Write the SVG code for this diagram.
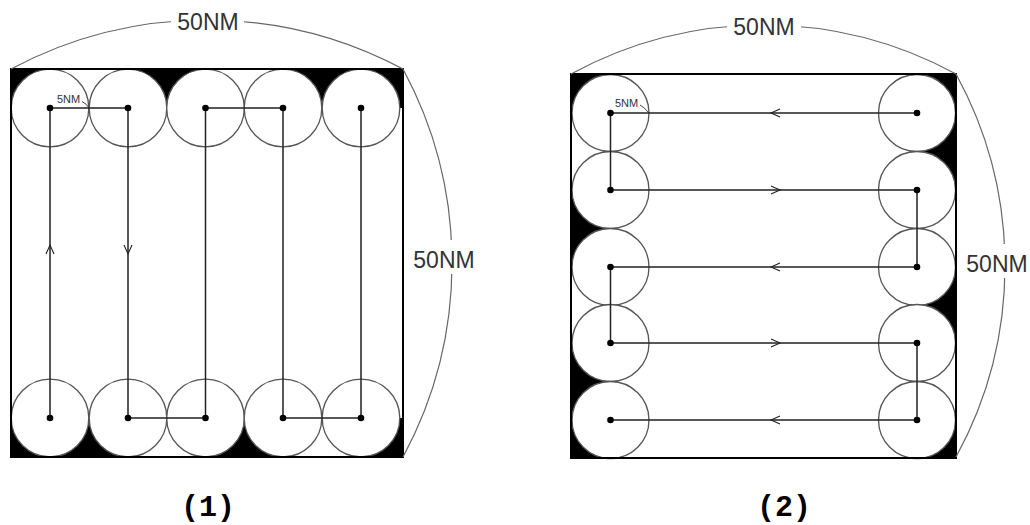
<svg xmlns="http://www.w3.org/2000/svg" width="1030" height="525" viewBox="0 0 1030 525">
<style>
.bg{fill:#fff}
.blk{fill:#000}
.cov{fill:#fff;stroke:#555;stroke-width:1.3}
.sq{fill:none;stroke:#000;stroke-width:2}
.arc{fill:none;stroke:#666;stroke-width:1.2}
.path{fill:none;stroke:#222;stroke-width:1.5}
.arr{fill:none;stroke:#222;stroke-width:1.1}
.dot{fill:#000}
.dim{font-family:"Liberation Sans",Arial,sans-serif;font-size:23px;fill:#333}
.small{font-family:"Liberation Sans",Arial,sans-serif;font-size:11px;fill:#333}
.cap{font-family:"Liberation Mono","Courier New",monospace;font-size:30px;font-weight:bold;fill:#000}
.tick{fill:none;stroke:#444;stroke-width:1}
</style>
<rect class="bg" x="0" y="0" width="1030" height="525"/>

<g id="diagram1">
  <g id="d1-gaps">
    <rect class="blk" x="11" y="69" width="39" height="39"/>
    <rect class="blk" x="128" y="69" width="77.5" height="39"/>
    <rect class="blk" x="283" y="69" width="78" height="39"/>
    <rect class="blk" x="361" y="69" width="42" height="39"/>
    <rect class="blk" x="11" y="418" width="117" height="39"/>
    <rect class="blk" x="205.5" y="418" width="77.5" height="39"/>
    <rect class="blk" x="361" y="418" width="42" height="39"/>
  </g>
  <g id="d1-top-row">
    <circle class="cov" cx="50" cy="108" r="38.8"/>
    <circle class="cov" cx="128" cy="108" r="38.8"/>
    <circle class="cov" cx="205.5" cy="108" r="38.8"/>
    <circle class="cov" cx="283" cy="108" r="38.8"/>
    <circle class="cov" cx="361" cy="108" r="38.8"/>
  </g>
  <g id="d1-bottom-row">
    <circle class="cov" cx="50" cy="418" r="38.8"/>
    <circle class="cov" cx="128" cy="418" r="38.8"/>
    <circle class="cov" cx="205.5" cy="418" r="38.8"/>
    <circle class="cov" cx="283" cy="418" r="38.8"/>
    <circle class="cov" cx="361" cy="418" r="38.8"/>
  </g>
  <rect id="d1-area" class="sq" x="11" y="69" width="392" height="388"/>
  <g id="d1-dims">
    <path class="arc" d="M11,69 A416.5,416.5 0 0 1 403,69"/>
    <path class="arc" d="M403,69 A408.5,408.5 0 0 1 403,457"/>
    <rect class="bg" x="171" y="10" width="73" height="24"/>
    <text class="dim" x="208" y="30" text-anchor="middle">50NM</text>
    <rect class="bg" x="410" y="240" width="68" height="34"/>
    <text class="dim" x="444" y="268" text-anchor="middle">50NM</text>
    <text class="small" x="57" y="103">5NM</text>
    <path class="tick" d="M82,101.5 Q87,104 89,108"/>
  </g>
  <text id="cap1" class="cap" x="208" y="516" text-anchor="middle">(1)</text>
</g>

<g id="diagram2">
  <g id="d2-gaps">
    <rect class="blk" x="571" y="74" width="39.5" height="39"/>
    <rect class="blk" x="571" y="190" width="39.5" height="77"/>
    <rect class="blk" x="571" y="343" width="39.5" height="115"/>
    <rect class="blk" x="917" y="74" width="39" height="116"/>
    <rect class="blk" x="917" y="267" width="39" height="76"/>
    <rect class="blk" x="917" y="420" width="39" height="38"/>
  </g>
  <g id="d2-left-col">
    <circle class="cov" cx="610.5" cy="113" r="38.5"/>
    <circle class="cov" cx="610.5" cy="190" r="38.5"/>
    <circle class="cov" cx="610.5" cy="267" r="38.5"/>
    <circle class="cov" cx="610.5" cy="343" r="38.5"/>
    <circle class="cov" cx="610.5" cy="420" r="38.5"/>
  </g>
  <g id="d2-right-col">
    <circle class="cov" cx="917" cy="113" r="38.5"/>
    <circle class="cov" cx="917" cy="190" r="38.5"/>
    <circle class="cov" cx="917" cy="267" r="38.5"/>
    <circle class="cov" cx="917" cy="343" r="38.5"/>
    <circle class="cov" cx="917" cy="420" r="38.5"/>
  </g>
  <rect id="d2-area" class="sq" x="571" y="74" width="385" height="384"/>
  <g id="d2-dims">
    <path class="arc" d="M571,74 A402.6,402.6 0 0 1 956,74"/>
    <path class="arc" d="M956,74 A398.7,398.7 0 0 1 956,457"/>
    <rect class="bg" x="727" y="13" width="74" height="26"/>
    <text class="dim" x="764" y="35" text-anchor="middle">50NM</text>
    <rect class="bg" x="963" y="244" width="67" height="34"/>
    <text class="dim" x="997" y="272" text-anchor="middle">50NM</text>
    <text class="small" x="615" y="107">5NM</text>
    <path class="tick" d="M640,105 Q645,108 649,113"/>
  </g>
  <text id="cap2" class="cap" x="784" y="516" text-anchor="middle">(2)</text>
</g>

<g id="connectors">
  <path class="path" d="M50,418 V108 H128 V418 H205.5 V108 H283 V418 H361 V108"/>
  <path class="arr" d="M46,254 L50,245 L54,254"/>
  <path class="arr" d="M124,245 L128,254 L132,245"/>
  <path class="path" d="M917,113 H610.5 V190 H917 V267 H610.5 V343 H917 V420 H610.5"/>
  <path class="arr" d="M780,109 L771,113 L780,117"/>
  <path class="arr" d="M771,186 L780,190 L771,194"/>
  <path class="arr" d="M780,263 L771,267 L780,271"/>
  <path class="arr" d="M771,339 L780,343 L771,347"/>
  <path class="arr" d="M780,416 L771,420 L780,424"/>
</g>

<g id="dots">
  <circle class="dot" cx="50" cy="108" r="3.3"/>
  <circle class="dot" cx="128" cy="108" r="3.3"/>
  <circle class="dot" cx="205.5" cy="108" r="3.3"/>
  <circle class="dot" cx="283" cy="108" r="3.3"/>
  <circle class="dot" cx="361" cy="108" r="3.3"/>
  <circle class="dot" cx="50" cy="418" r="3.3"/>
  <circle class="dot" cx="128" cy="418" r="3.3"/>
  <circle class="dot" cx="205.5" cy="418" r="3.3"/>
  <circle class="dot" cx="283" cy="418" r="3.3"/>
  <circle class="dot" cx="361" cy="418" r="3.3"/>
  <circle class="dot" cx="610.5" cy="113" r="3.3"/>
  <circle class="dot" cx="610.5" cy="190" r="3.3"/>
  <circle class="dot" cx="610.5" cy="267" r="3.3"/>
  <circle class="dot" cx="610.5" cy="343" r="3.3"/>
  <circle class="dot" cx="610.5" cy="420" r="3.3"/>
  <circle class="dot" cx="917" cy="113" r="3.3"/>
  <circle class="dot" cx="917" cy="190" r="3.3"/>
  <circle class="dot" cx="917" cy="267" r="3.3"/>
  <circle class="dot" cx="917" cy="343" r="3.3"/>
  <circle class="dot" cx="917" cy="420" r="3.3"/>
</g>
</svg>
